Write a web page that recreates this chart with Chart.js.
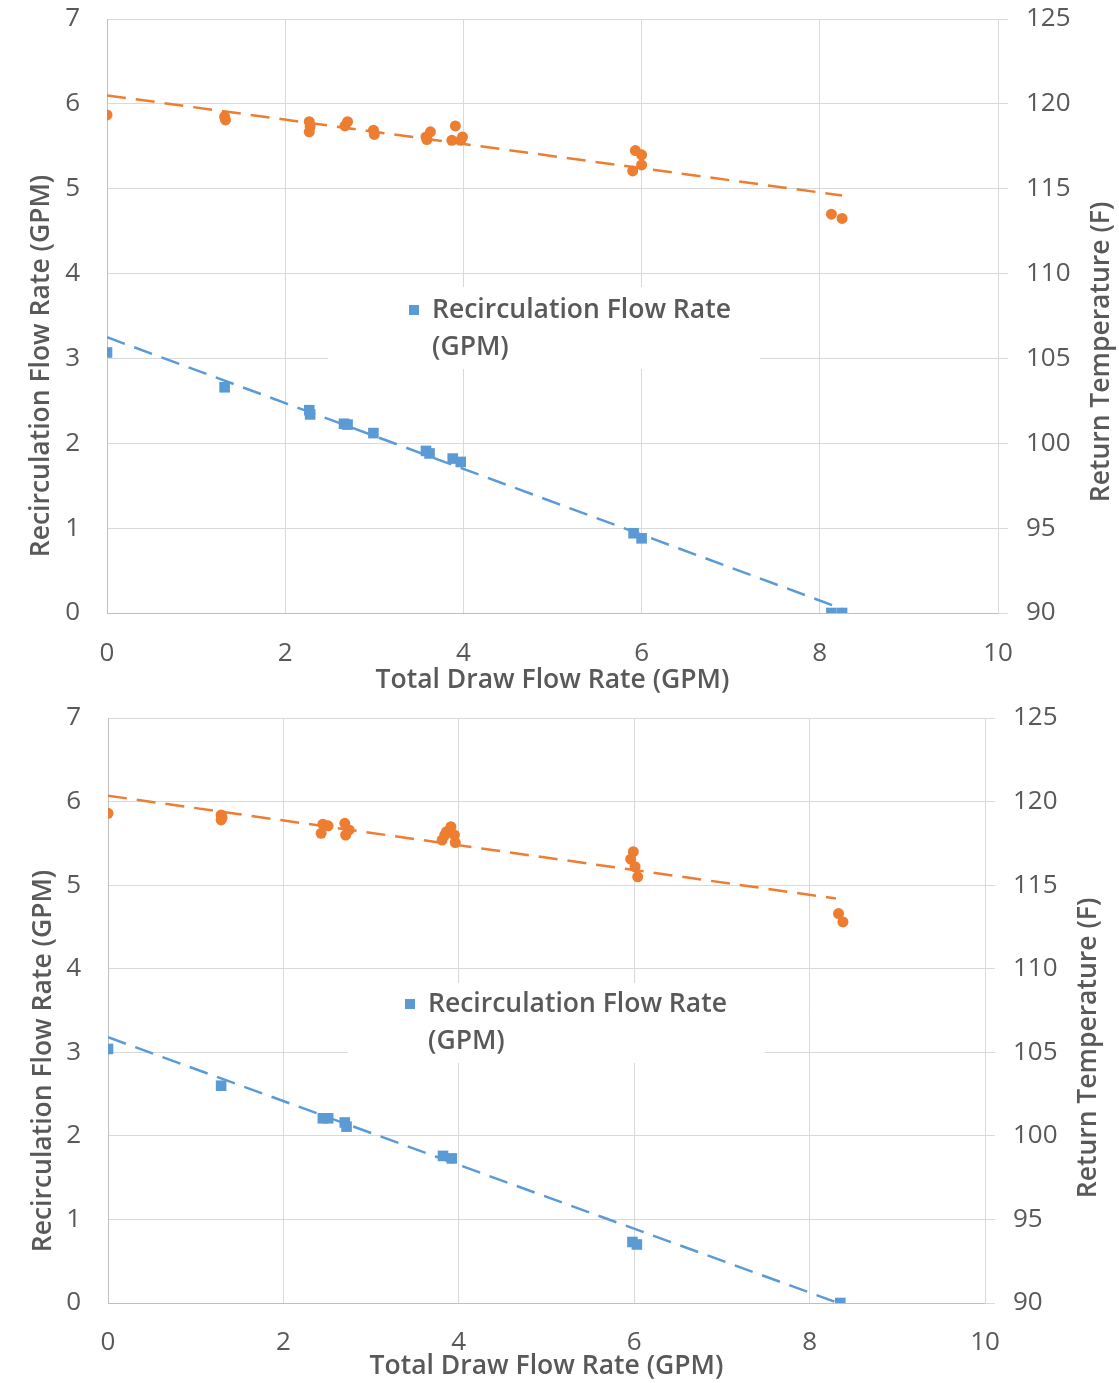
<!DOCTYPE html>
<html>
<head>
<meta charset="utf-8">
<script src="https://cdn.jsdelivr.net/npm/chart.js@4.4.1/dist/chart.umd.min.js"></script>
<style>
  body { margin: 0; background: #fff; }
  canvas { display: block; }
</style>
</head>
<body>
<canvas id="chartTop" width="1119" height="700"></canvas>
<canvas id="chartBottom" width="1119" height="683"></canvas>
<script>
// top chart
let topRecircX = [0, 1.32, 2.27, 2.28, 2.66, 2.70, 2.99, 3.58, 3.62, 3.88, 3.97, 5.91, 6.00, 8.13, 8.25]
let topRecircY = [3.07, 2.66, 2.39, 2.34, 2.23, 2.22, 2.12, 1.91, 1.88, 1.82, 1.78, 0.94, 0.88, 0, 0]
let topTempX = [0, 1.32, 1.33, 2.27, 2.28, 2.27, 2.67, 2.70, 2.99, 3.00, 3.58, 3.63, 3.59, 3.91, 3.87, 3.99, 3.97, 5.93, 6.00, 6.00, 5.90, 8.13, 8.25]
let topTemp = [119.35, 119.25, 119.05, 118.95, 118.65, 118.35, 118.7, 118.95, 118.45, 118.2, 118.05, 118.35, 117.9, 118.7, 117.85, 118.05, 117.85, 117.25, 117.0, 116.4, 116.05, 113.5, 113.25]
let topRecircTrendX = [0, 8.25]
let topRecircTrendY = [3.25, 0.05]
let topTempTrendX = [0, 8.25]
let topTempTrendY = [120.5, 114.6]

// bottom chart
let botRecircX = [0, 1.29, 2.45, 2.51, 2.70, 2.72, 3.82, 3.92, 5.98, 6.03, 8.35]
let botRecircY = [3.04, 2.60, 2.21, 2.21, 2.16, 2.11, 1.76, 1.73, 0.73, 0.70, 0]
let botTempX = [0, 1.29, 1.30, 1.29, 2.45, 2.43, 2.51, 2.70, 2.71, 2.75, 3.81, 3.84, 3.86, 3.91, 3.95, 3.96, 5.99, 5.96, 6.01, 6.04, 8.33, 8.38]
let botTemp = [119.3, 119.2, 119.05, 118.9, 118.65, 118.1, 118.55, 118.7, 118.0, 118.3, 117.7, 118.0, 118.2, 118.5, 118.0, 117.55, 117.0, 116.55, 116.1, 115.5, 113.3, 112.8]
let botRecircTrendX = [0, 8.3]
let botRecircTrendY = [3.18, 0.01]
let botTempTrendX = [0, 8.3]
let botTempTrendY = [120.35, 114.2]

let xTitle = 'Total Draw Flow Rate (GPM)'
let yTitle = 'Recirculation Flow Rate (GPM)'
let y2Title = 'Return Temperature (F)'
let legendLines = ['Recirculation Flow Rate', '(GPM)']

const blue = '#5B9BD5'
const orange = '#ED7D31'
const gray = '#595959'
const gridColor = '#D9D9D9'
const fontFamily = '"Open Sans", "DejaVu Sans", sans-serif'
const titleFont = '600 26.5px ' + fontFamily

function toPoints(xs, ys) {
    return xs.map((x, i) => ({ x: x, y: ys[i] }))
}

// legend box + axis titles, drawn by hand so they can sit where Excel put them
const extras = {
    id: 'extras',
    beforeDatasetsDraw(chart, args, opts) {
        const ctx = chart.ctx
        const lg = opts.legend
        ctx.save()
        ctx.fillStyle = '#fff'
        ctx.fillRect(lg.x, lg.y, lg.w, lg.h)
        ctx.fillStyle = blue
        ctx.fillRect(lg.mx - 5, lg.my - 5, 10, 10)
        ctx.fillStyle = gray
        ctx.font = titleFont
        ctx.textAlign = 'left'
        ctx.textBaseline = 'middle'
        ctx.fillText(legendLines[0], lg.tx, lg.my)
        ctx.fillText(legendLines[1], lg.tx, lg.my + 37)
        ctx.restore()
    },
    afterDraw(chart, args, opts) {
        const ctx = chart.ctx
        const area = chart.chartArea
        ctx.save()
        ctx.fillStyle = gray
        ctx.font = titleFont
        ctx.textAlign = 'center'
        ctx.textBaseline = 'middle'
        ctx.fillText(xTitle, (area.left + area.right) / 2, opts.xTitleY)

        ctx.save()
        ctx.translate(opts.yTitle.x, opts.yTitle.y)
        ctx.rotate(-Math.PI / 2)
        ctx.fillText(yTitle, 0, 0)
        ctx.restore()

        ctx.save()
        ctx.translate(opts.y2Title.x, opts.y2Title.y)
        ctx.rotate(-Math.PI / 2)
        ctx.fillText(y2Title, 0, 0)
        ctx.restore()
        ctx.restore()
    }
}

function fitY(width) {
    return s => {
        s.width = width
        // keep the label overhang from pushing the plot down
        s.paddingTop = 0
        s.paddingBottom = 0
    }
}

function makeChart(id, d) {
    const trendStyle = {
        type: 'scatter',
        showLine: true,
        pointRadius: 0,
        borderWidth: 2.5,
        borderDash: [19, 10],
        fill: false
    }
    return new Chart(document.getElementById(id).getContext('2d'), {
        type: 'scatter',
        data: {
            datasets: [
                Object.assign({}, trendStyle, {
                    label: 'tempTrend',
                    data: toPoints(d.tempTrendX, d.tempTrendY),
                    borderColor: orange,
                    yAxisID: 'y2',
                    order: 1
                }),
                Object.assign({}, trendStyle, {
                    label: 'recircTrend',
                    data: toPoints(d.recircTrendX, d.recircTrendY),
                    borderColor: blue,
                    yAxisID: 'y',
                    order: 2
                }),
                {
                    label: 'Return Temperature (F)',
                    data: toPoints(d.tempX, d.temp),
                    backgroundColor: orange,
                    borderColor: orange,
                    pointStyle: 'circle',
                    pointRadius: 5.5,
                    borderWidth: 0,
                    yAxisID: 'y2',
                    order: 3
                },
                {
                    label: 'Recirculation Flow Rate (GPM)',
                    data: toPoints(d.recircX, d.recircY),
                    backgroundColor: blue,
                    borderColor: blue,
                    pointStyle: 'rect',
                    pointRadius: 7.5,
                    borderWidth: 0,
                    yAxisID: 'y',
                    order: 4
                }
            ]
        },
        options: {
            responsive: false,
            animation: false,
            layout: { padding: { top: d.padTop, left: 0, right: 0, bottom: 0 } },
            plugins: {
                legend: { display: false },
                tooltip: { enabled: false },
                extras: d.extras
            },
            scales: {
                x: {
                    type: 'linear',
                    min: 0,
                    max: 10,
                    afterFit: s => { s.height = d.xHeight },
                    ticks: { stepSize: 2, color: gray, padding: d.xPad, font: { family: fontFamily, size: 26 } },
                    grid: { color: gridColor, drawTicks: false },
                    border: { color: '#BFBFBF' }
                },
                y: {
                    position: 'left',
                    min: 0,
                    max: 7,
                    afterFit: fitY(d.yWidth),
                    ticks: { stepSize: 1, color: gray, padding: 27, font: { family: fontFamily, size: 26 } },
                    grid: { color: gridColor, drawTicks: false },
                    border: { color: '#BFBFBF' }
                },
                y2: {
                    position: 'right',
                    min: 90,
                    max: 125,
                    afterFit: fitY(d.y2Width),
                    ticks: { stepSize: 5, color: gray, padding: 18, font: { family: fontFamily, size: 26 } },
                    grid: { color: gridColor, drawOnChartArea: false, drawTicks: true, tickLength: 10 },
                    border: { color: gridColor }
                }
            }
        },
        plugins: [extras]
    })
}

makeChart('chartTop', {
    recircX: topRecircX, recircY: topRecircY,
    tempX: topTempX, temp: topTemp,
    recircTrendX: topRecircTrendX, recircTrendY: topRecircTrendY,
    tempTrendX: topTempTrendX, tempTrendY: topTempTrendY,
    padTop: 19, xHeight: 87, yWidth: 107, y2Width: 121, xPad: 25,
    extras: {
        legend: { x: 328, y: 287, w: 432, h: 82, mx: 414, my: 310, tx: 432 },
        xTitleY: 680,
        yTitle: { x: 41, y: 366 },
        y2Title: { x: 1101, y: 352 }
    }
})

makeChart('chartBottom', {
    recircX: botRecircX, recircY: botRecircY,
    tempX: botTempX, temp: botTemp,
    recircTrendX: botRecircTrendX, recircTrendY: botRecircTrendY,
    tempTrendX: botTempTrendX, tempTrendY: botTempTrendY,
    padTop: 18, xHeight: 80, yWidth: 108, y2Width: 134, xPad: 24,
    extras: {
        legend: { x: 348, y: 283, w: 417, h: 80, mx: 410, my: 304, tx: 428 },
        xTitleY: 666,
        yTitle: { x: 43, y: 361 },
        y2Title: { x: 1088, y: 348 }
    }
})
</script>
</body>
</html>
